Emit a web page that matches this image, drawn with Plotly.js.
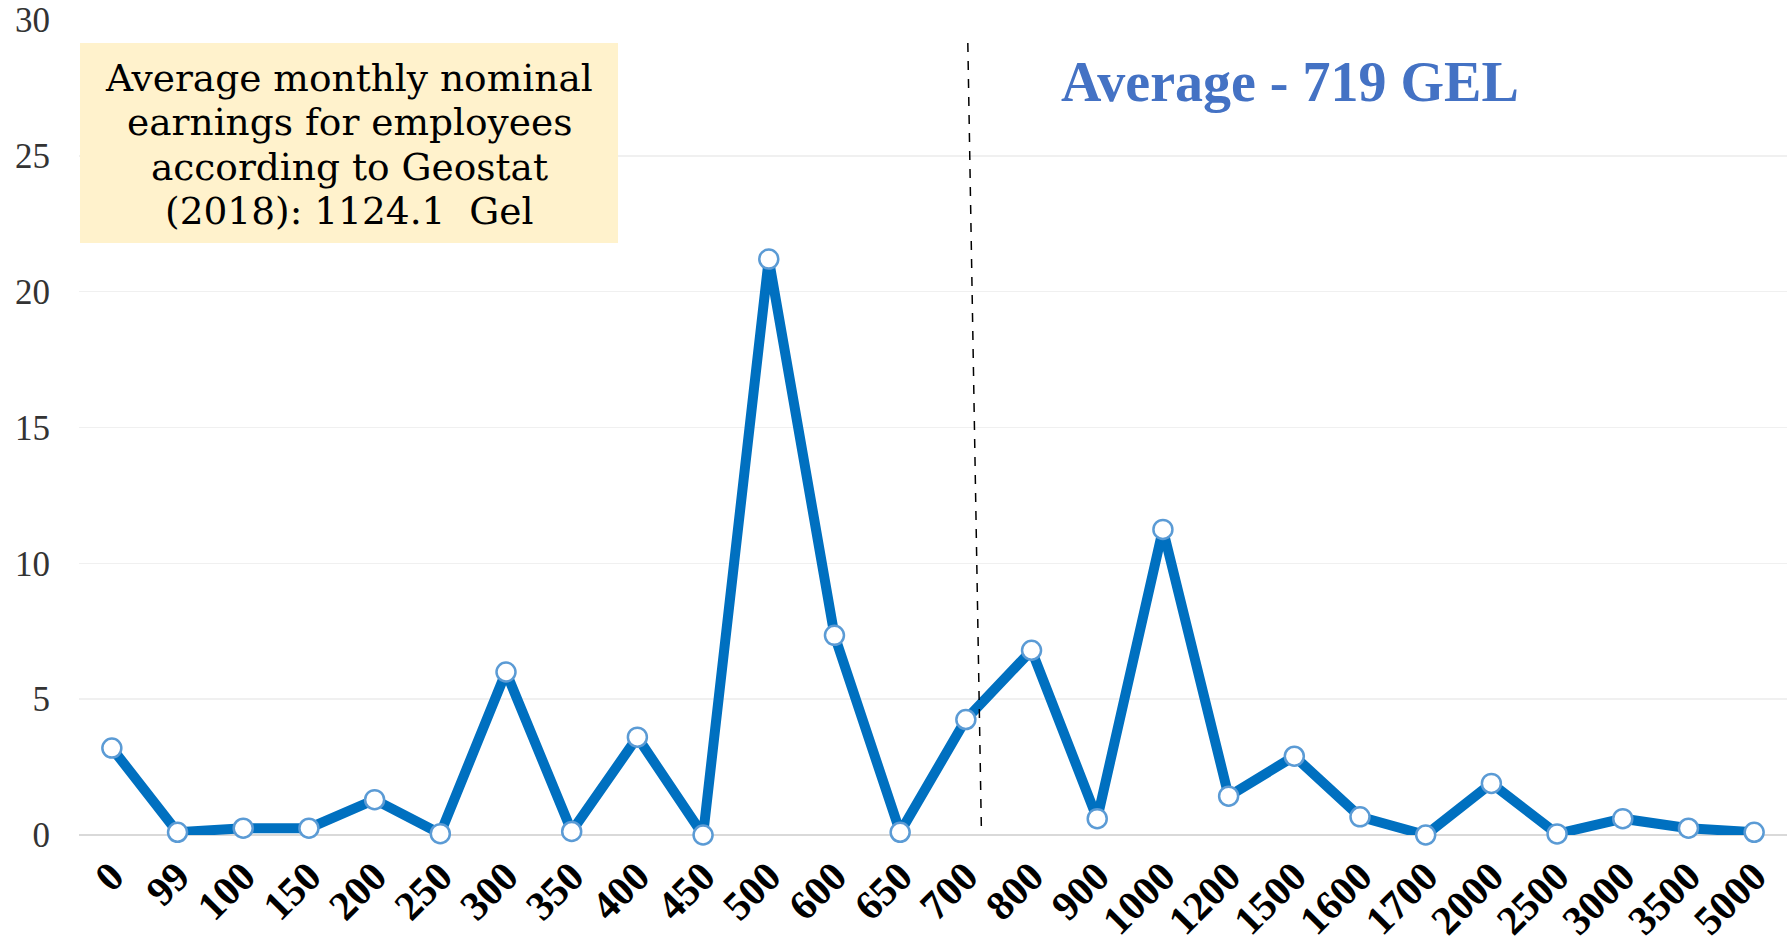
<!DOCTYPE html>
<html>
<head>
<meta charset="utf-8">
<script src="https://cdn.plot.ly/plotly-3.0.1.min.js"></script>
<style>html,body{margin:0;padding:0;background:#fff;}#chart{width:1790px;height:951px;}</style>
</head>
<body>
<div id="chart"></div>
<script>
const categories = ["0","99","100","150","200","250","300","350","400","450","500","600","650","700","800","900","1000","1200","1500","1600","1700","2000","2500","3000","3500","5000"];
const shares = [3.2,0.1,0.25,0.25,1.3,0.05,6.0,0.13,3.6,0,21.2,7.35,0.1,4.25,6.8,0.6,11.25,1.43,2.9,0.67,0,1.9,0.04,0.6,0.25,0.1];
const yTicks = [0,5,10,15,20,25,30];
const boxLines = ["Average monthly nominal","earnings for employees","according to Geostat","(2018): 1124.1  Gel"];
const avgText = "Average - 719 GEL";

const W = 1790, H = 951, L = 79, R = 3, T = 20, B = 116;
const pw = W - L - R, ph = H - T - B;
const px = v => (v - L) / pw;
const py = v => (H - B - v) / ph;

const trace = {
  x: categories,
  y: shares,
  type: 'scatter',
  mode: 'lines+markers',
  line: {color: '#0070C0', width: 10},
  marker: {size: 19, color: '#ffffff', line: {color: '#5B9BD5', width: 2.5}},
  cliponaxis: false,
  hoverinfo: 'x+y'
};

const lineY = [77.6, 122, 166.6, 211];
const boxAnns = boxLines.map((t, i) => ({
  xref: 'paper', yref: 'paper', x: px(349), y: py(lineY[i]), xanchor: 'center', yanchor: 'middle',
  text: t, showarrow: false, font: {family: 'DejaVu Serif', size: 37.5, color: '#000000'}
}));

const layout = {
  width: W, height: H,
  paper_bgcolor: '#ffffff', plot_bgcolor: '#ffffff',
  margin: {l: L, r: R, t: T, b: B},
  showlegend: false,
  xaxis: {
    type: 'category',
    range: [-0.5, categories.length - 0.5],
    showgrid: false, zeroline: false, showline: false,
    tickangle: -45,
    tickfont: {family: 'Liberation Serif', size: 41, color: '#000000', weight: 'bold'},
    ticks: '', ticklen: 0,
    ticklabelstandoff: 8
  },
  yaxis: {
    range: [0, 30],
    tickvals: yTicks,
    showgrid: true, gridcolor: '#F0F0F0', gridwidth: 1.5,
    zeroline: true, zerolinecolor: '#D9D9D9', zerolinewidth: 2,
    showline: false,
    tickfont: {family: 'Liberation Serif', size: 35, color: '#333333'},
    ticklabelstandoff: 28
  },
  shapes: [
    {type: 'rect', xref: 'paper', yref: 'paper', x0: px(80), x1: px(618), y0: py(43), y1: py(243),
     fillcolor: '#FFF2CC', line: {width: 0}, layer: 'above'},
    {type: 'line', xref: 'x', yref: 'y', x0: 13.03, y0: 29.15, x1: 13.24, y1: -0.3,
     line: {color: '#000000', width: 1.5, dash: 'dash'}}
  ],
  annotations: boxAnns.concat([
    {xref: 'paper', yref: 'paper', x: px(1290), y: py(82), xanchor: 'center', yanchor: 'middle',
     text: '<b>' + avgText + '</b>', showarrow: false,
     font: {family: 'Liberation Serif', size: 56, color: '#4472C4'}}
  ])
};

Plotly.newPlot('chart', [trace], layout, {displayModeBar: false, staticPlot: true});
</script>
</body>
</html>
